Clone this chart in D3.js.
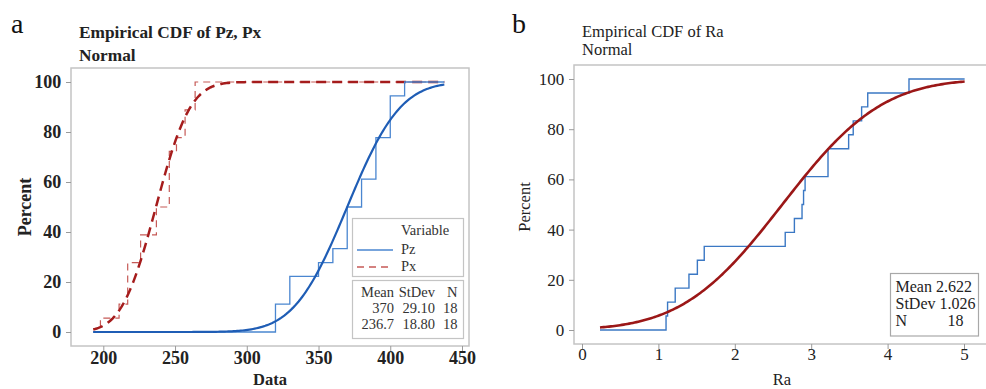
<!DOCTYPE html>
<html>
<head>
<meta charset="utf-8">
<script src="https://cdn.jsdelivr.net/npm/d3@7"></script>
<style>
  html, body { margin: 0; padding: 0; background: #fff; }
  svg { display: block; }
</style>
</head>
<body>
<svg id="chart" width="986" height="389"></svg>
<script>
// ---- data ----
const pzValues = [320, 320, 330, 330, 350, 360, 370, 370, 370, 380, 380, 390, 390, 390, 400, 400, 400, 410];
const pxValues = [198, 211, 217, 217, 217, 226, 226, 237, 237, 246, 246, 246, 246, 251, 257, 257, 264, 264];
const raValues = [1.10, 1.12, 1.22, 1.40, 1.51, 1.60, 2.66, 2.78, 2.88, 2.90, 2.92, 3.22, 3.22, 3.49, 3.55, 3.66, 3.74, 4.28];

const statsA = [
  { name: "Pz", mean: 370, sd: 29.10, n: 18 },
  { name: "Px", mean: 236.7, sd: 18.80, n: 18 }
];
const statsB = { name: "Ra", mean: 2.622, sd: 1.026, n: 18 };

const ticksA = [200, 250, 300, 350, 400, 450];
const ticksB = [0, 1, 2, 3, 4, 5];
const pctTicks = [0, 20, 40, 60, 80, 100];

const serif = "'Liberation Serif', 'DejaVu Serif', serif";

// ---- helpers ----
function erf(x) {
  const s = x < 0 ? -1 : 1;
  x = Math.abs(x);
  const t = 1 / (1 + 0.3275911 * x);
  const y = 1 - (((((1.061405429 * t - 1.453152027) * t) + 1.421413741) * t - 0.284496736) * t + 0.254829592) * t * Math.exp(-x * x);
  return s * y;
}
const normCdf = (x, m, s) => 50 * (1 + erf((x - m) / (s * Math.SQRT2)));

// fitted curve points between lo and hi
function fitPoints(st, lo, hi) {
  return d3.range(0, 201).map(i => {
    const x = lo + (hi - lo) * i / 200;
    return [x, normCdf(x, st.mean, st.sd)];
  });
}

// empirical step points
function ecdfPoints(vals, lo, hi) {
  const s = vals.slice().sort(d3.ascending);
  const pts = [[lo, 0]];
  d3.rollups(s, v => v.length, d => d).forEach(([v]) => {
    pts.push([v, 100 * s.filter(d => d <= v).length / s.length]);
  });
  pts.push([hi, 100]);
  return pts;
}

const svg = d3.select("#chart");

function axes(g, x, y, frame, xt, bold, fsz, labelY) {
  const fw = bold ? "bold" : "normal";
  g.append("rect")
    .attr("x", frame.x0).attr("y", frame.y0)
    .attr("width", frame.x1 - frame.x0).attr("height", frame.y1 - frame.y0)
    .attr("fill", "none").attr("stroke", "#c4c4c4").attr("stroke-width", 1.5);

  const xa = g.append("g").attr("transform", `translate(0,${frame.y1})`)
    .call(d3.axisBottom(x).tickValues(xt).tickFormat(d3.format("d")).tickSize(5).tickSizeOuter(0));
  const ya = g.append("g").attr("transform", `translate(${frame.x0},0)`)
    .call(d3.axisLeft(y).tickValues(pctTicks).tickSize(5).tickSizeOuter(0));
  [xa, ya].forEach(a => {
    a.select(".domain").remove();
    a.selectAll("line").attr("stroke", "#9a9a9a");
    a.selectAll("text").attr("font-family", serif).attr("font-size", fsz)
      .attr("font-weight", fw).attr("fill", "#222");
  });
  xa.selectAll("text").attr("y", labelY).attr("dy", 0);
  ya.selectAll("text").attr("dx", "-0.1em");
}

// ================= panel a =================
{
  const frame = { x0: 71, y0: 68, x1: 469, y1: 346 };
  const x = d3.scaleLinear().domain([200, 450]).range([103.3, 462]);
  const y = d3.scaleLinear().domain([0, 100]).range([332, 82]);
  const g = svg.append("g");

  svg.append("text").attr("x", 11).attr("y", 33).text("a")
    .attr("font-family", serif).attr("font-size", 28).attr("fill", "#111");
  g.append("text").attr("x", 79).attr("y", 38).text("Empirical CDF of Pz, Px")
    .attr("font-family", serif).attr("font-size", 17.3).attr("font-weight", "bold").attr("fill", "#222");
  g.append("text").attr("x", 79).attr("y", 61).text("Normal")
    .attr("font-family", serif).attr("font-size", 17.3).attr("font-weight", "bold").attr("fill", "#222");

  axes(g, x, y, frame, ticksA, true, 18, 18);

  g.append("text").attr("x", (frame.x0 + frame.x1) / 2).attr("y", 384.5).attr("text-anchor", "middle")
    .text("Data").attr("font-family", serif).attr("font-size", 16.5).attr("font-weight", "bold").attr("fill", "#222");
  g.append("text").attr("transform", "translate(31,207) rotate(-90)").attr("text-anchor", "middle")
    .text("Percent").attr("font-family", serif).attr("font-size", 18).attr("font-weight", "bold").attr("fill", "#222");

  const lo = d3.min(statsA, s => s.mean - 2.326 * s.sd);
  const hi = d3.max(statsA, s => s.mean + 2.326 * s.sd);
  const line = d3.line().x(d => x(d[0])).y(d => y(d[1]));
  const step = d3.line().x(d => x(d[0])).y(d => y(d[1])).curve(d3.curveStepAfter);

  // Px (red dashed)
  g.append("path").datum(ecdfPoints(pxValues, lo, hi)).attr("d", step)
    .attr("fill", "none").attr("stroke", "#c65a57").attr("stroke-width", 1.2).attr("stroke-dasharray", "7,5");
  g.append("path").datum(fitPoints(statsA[1], lo, hi)).attr("d", line)
    .attr("fill", "none").attr("stroke", "#a51c1c").attr("stroke-width", 2.5).attr("stroke-dasharray", "10,6");
  // Pz (blue)
  g.append("path").datum(ecdfPoints(pzValues, lo, hi)).attr("d", step)
    .attr("fill", "none").attr("stroke", "#4a86d0").attr("stroke-width", 1.3);
  g.append("path").datum(fitPoints(statsA[0], lo, hi)).attr("d", line)
    .attr("fill", "none").attr("stroke", "#1f5db5").attr("stroke-width", 2.2);

  // legend
  const lg = g.append("g");
  const fz = 14.5;
  lg.append("rect").attr("x", 352.5).attr("y", 218.5).attr("width", 111).attr("height", 58)
    .attr("fill", "#fff").attr("stroke", "#c4c4c4").attr("stroke-width", 1.2);
  lg.append("text").attr("x", 401).attr("y", 235).text("Variable")
    .attr("font-family", serif).attr("font-size", fz).attr("fill", "#333");
  lg.append("line").attr("x1", 357).attr("x2", 393).attr("y1", 250).attr("y2", 250)
    .attr("stroke", "#4a86d0").attr("stroke-width", 1.3);
  lg.append("text").attr("x", 401).attr("y", 254).text(statsA[0].name)
    .attr("font-family", serif).attr("font-size", fz).attr("fill", "#333");
  lg.append("line").attr("x1", 357).attr("x2", 393).attr("y1", 267).attr("y2", 267)
    .attr("stroke", "#c65a57").attr("stroke-width", 1.3).attr("stroke-dasharray", "7,5");
  lg.append("text").attr("x", 401).attr("y", 271).text(statsA[1].name)
    .attr("font-family", serif).attr("font-size", fz).attr("fill", "#333");

  lg.append("rect").attr("x", 352.5).attr("y", 280.5).attr("width", 111).attr("height", 58)
    .attr("fill", "#fff").attr("stroke", "#c4c4c4").attr("stroke-width", 1.2);
  const cols = [394, 435, 457.5];
  const hdr = ["Mean", "StDev", "N"];
  hdr.forEach((h, i) => lg.append("text").attr("x", cols[i]).attr("y", 297).attr("text-anchor", "end")
    .text(h).attr("font-family", serif).attr("font-size", fz).attr("fill", "#333"));
  statsA.forEach((s, r) => {
    const row = [d3.format("")(s.mean), s.sd.toFixed(2), s.n];
    row.forEach((v, i) => lg.append("text").attr("x", cols[i]).attr("y", 313 + r * 16)
      .attr("text-anchor", "end").text(v).attr("font-family", serif).attr("font-size", fz).attr("fill", "#333"));
  });
}

// ================= panel b =================
{
  const frame = { x0: 574, y0: 65, x1: 992, y1: 344 };
  const x = d3.scaleLinear().domain([0, 5]).range([582, 964]);
  const y = d3.scaleLinear().domain([0, 100]).range([330, 79]);
  const g = svg.append("g");

  svg.append("text").attr("x", 512).attr("y", 33).text("b")
    .attr("font-family", serif).attr("font-size", 28).attr("fill", "#111");
  g.append("text").attr("x", 582).attr("y", 37).text("Empirical CDF of Ra")
    .attr("font-family", serif).attr("font-size", 16.5).attr("fill", "#222");
  g.append("text").attr("x", 582).attr("y", 55).text("Normal")
    .attr("font-family", serif).attr("font-size", 16.5).attr("fill", "#222");

  axes(g, x, y, frame, ticksB, false, 17, 16);

  g.append("text").attr("x", 782).attr("y", 384.5).attr("text-anchor", "middle")
    .text("Ra").attr("font-family", serif).attr("font-size", 16.5).attr("fill", "#222");
  g.append("text").attr("transform", "translate(530,207) rotate(-90)").attr("text-anchor", "middle")
    .text("Percent").attr("font-family", serif).attr("font-size", 16.5).attr("fill", "#222");

  const lo = statsB.mean - 2.326 * statsB.sd;
  const hi = statsB.mean + 2.326 * statsB.sd;
  const line = d3.line().x(d => x(d[0])).y(d => y(d[1]));
  const step = d3.line().x(d => x(d[0])).y(d => y(d[1])).curve(d3.curveStepAfter);

  g.append("path").datum(ecdfPoints(raValues, lo, hi)).attr("d", step)
    .attr("fill", "none").attr("stroke", "#3b78c4").attr("stroke-width", 1.4);
  g.append("path").datum(fitPoints(statsB, lo, hi)).attr("d", line)
    .attr("fill", "none").attr("stroke", "#9b1717").attr("stroke-width", 2.6);

  const lg = g.append("g");
  const fz = 16;
  lg.append("rect").attr("x", 890.5).attr("y", 273.5).attr("width", 88).attr("height", 62.5)
    .attr("fill", "#fff").attr("stroke", "#a8a8a8").attr("stroke-width", 1.2);
  const lines = [["Mean", statsB.mean.toFixed(3)], ["StDev", statsB.sd.toFixed(3)]];
  lines.forEach((l, i) => lg.append("text").attr("x", 895.5).attr("y", 291.5 + i * 17.5)
    .text(l[0] + " " + l[1]).attr("font-family", serif).attr("font-size", fz).attr("fill", "#222"));
  lg.append("text").attr("x", 895.5).attr("y", 326).text("N")
    .attr("font-family", serif).attr("font-size", fz).attr("fill", "#222");
  lg.append("text").attr("x", 963.5).attr("y", 326).attr("text-anchor", "end").text(statsB.n)
    .attr("font-family", serif).attr("font-size", fz).attr("fill", "#222");
}
</script>
</body>
</html>
